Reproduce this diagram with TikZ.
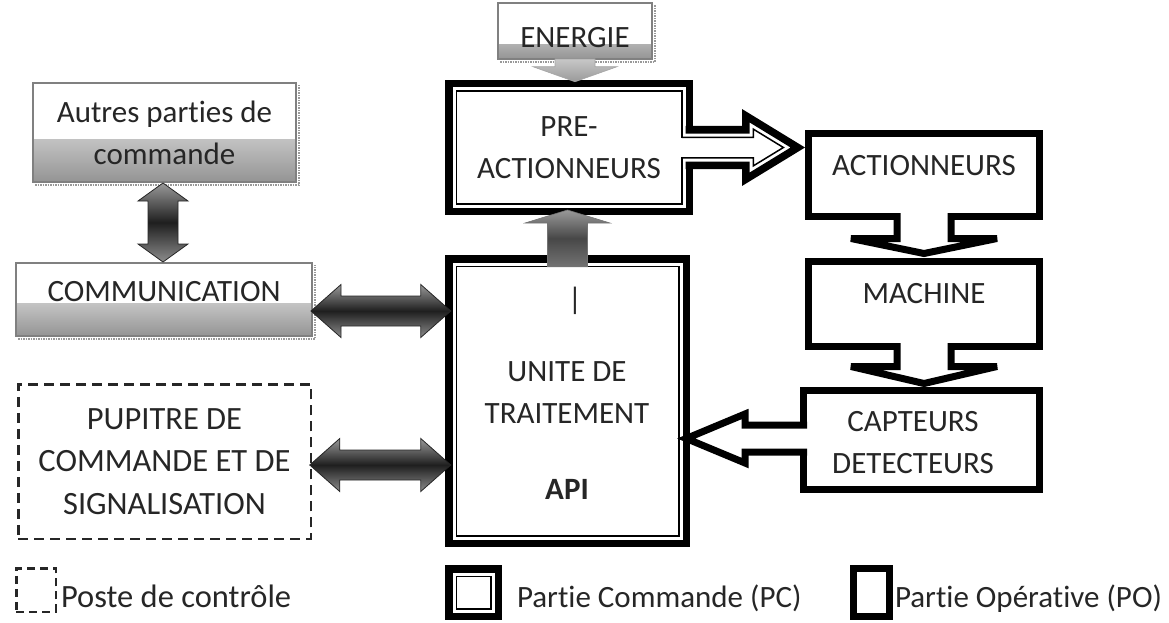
\documentclass[tikz,border=0pt]{standalone}
\usepackage{fontspec}
\setmainfont{Carlito}[Ligatures=NoCommon]
\usetikzlibrary{calc}
\begin{document}
\begin{tikzpicture}[x=1pt,y=-1pt,
 every node/.style={outer sep=0pt,inner sep=0pt,text=black!85,font=\fontsize{31pt}{42pt}\selectfont},
 bigtxt/.style={font=\fontsize{32.5pt}{42.5pt}\selectfont},
 gbox/.style={draw=black!50,line width=2.2pt,fill=white,path picture={\shade[top color=white,bottom color=black!42] ($(path picture bounding box.south west)!#1!(path picture bounding box.north west)$) rectangle (path picture bounding box.south east);}},
 shadowline/.style={draw=black!40,line width=1.5pt,dash pattern=on 1.5pt off 1pt},
 pcbox/.style={draw=black,line width=7.5pt,fill=white,path picture={\draw[line width=1.5pt] ([xshift=7.5pt,yshift=-7.5pt]path picture bounding box.north west) rectangle ([xshift=-7.5pt,yshift=7.5pt]path picture bounding box.south east);}},
 pobox/.style={draw=black,line width=7pt,fill=white},
 postebox/.style={draw=black!85,line width=2.5pt,dash pattern=on 10pt off 6pt},
 hollowarrow/.style={draw=black,line width=7pt,fill=white,line join=miter,miter limit=3},
 pcarrow/.style={draw=black,line width=7.5pt,fill=white,line join=miter,miter limit=3},
 thinline/.style={draw=black,line width=1.5pt,line join=miter,miter limit=3},
 darkarrow/.style={draw=black!85,line width=0.8pt,top color=black!40,bottom color=black!45,middle color=black!88},
 grayarrow/.style={draw=black!55,line width=0.6pt,top color=black!40,bottom color=black!55,middle color=black!72},
 lightarrow/.style={draw=black!35,line width=0.6pt,top color=black!22,bottom color=black!40},
]
\useasboundingbox (0,0) rectangle (1169,623);

% ---- left column (poste de controle / communication)
\node[gbox=0.43,minimum width=263pt,minimum height=99pt,align=center] (autres) at (164.5,132.5) {Autres parties de\\commande};
\node[gbox=0.45,minimum width=296pt,minimum height=73pt,label={[yshift=7.5pt]center:COMMUNICATION}] (comm) at (164,299.5) {};
\node[postebox,bigtxt,minimum width=292.5pt,minimum height=154.5pt,align=center] (pupitre) at (164.5,461.5) {PUPITRE DE\\COMMANDE ET DE\\SIGNALISATION};
\node[gbox=0.25,minimum width=154pt,minimum height=56pt,label={[yshift=-6.5pt]center:ENERGIE}] (energie) at (575,31) {};

\foreach \b in {autres,comm,energie}{
  \draw[shadowline] ([xshift=2pt,yshift=-2.8pt]\b.south west) -- ([xshift=2.8pt,yshift=-2.8pt]\b.south east) -- ([xshift=2.8pt,yshift=-2pt]\b.north east);
}

% ---- partie commande
\node[pcbox,minimum width=240.5pt,minimum height=127.5pt,align=center] (pre) at (569,147.5) {PRE-\\ACTIONNEURS};
\node[pcbox,minimum width=237.5pt,minimum height=284.5pt] (unite) at (567.5,401) {};
\node (bar) at (575,301) {|};
\node[align=center] (uniteT) at (567,392.5) {UNITE DE\\TRAITEMENT};
\node (api) at (567,489) {\textbf{API}};

% ---- partie operative
\node[pobox,minimum width=231pt,minimum height=83pt,label={[yshift=9pt]center:ACTIONNEURS}] (act) at (924,175) {};
\node[pobox,minimum width=231pt,minimum height=85pt,label={[yshift=10pt]center:MACHINE}] (mach) at (924,304) {};
\node[pobox,minimum width=236pt,minimum height=99pt,label={[align=center,xshift=-8.5pt,yshift=-2.5pt]center:{CAPTEURS\\DETECTEURS}}] (capt) at (921.5,440) {};

% ---- hollow block arrows of the operative part
\path[hollowarrow] let \p1=(act.south), \p2=(mach.north) in
  (\x1-27pt,\y1+3.5pt) -- (\x1-27pt,\y1-22pt) -- (\x1-73pt,\y1-22pt) -- (\x1,\y2+8pt)
  -- (\x1+73pt,\y1-22pt) -- (\x1+27pt,\y1-22pt) -- (\x1+27pt,\y1+3.5pt);
\path[hollowarrow] let \p1=(mach.south), \p2=(capt.north) in
  (\x1-27pt,\y1+3.5pt) -- (\x1-27pt,\y1-20pt) -- (\x1-73pt,\y1-20pt) -- (\x1,\y2+7pt)
  -- (\x1+73pt,\y1-20pt) -- (\x1+27pt,\y1-20pt) -- (\x1+27pt,\y1+3.5pt);
\path[hollowarrow] let \p1=(capt.west), \p2=(unite.east) in
  (\x1+3.5pt,\y1+15pt) -- (\x1-58.5pt,\y1+15pt) -- (\x1-58.5pt,\y1+26pt) -- (\x2,\y1+1.5pt)
  -- (\x1-58.5pt,\y1-23pt) -- (\x1-58.5pt,\y1-12pt) -- (\x1+3.5pt,\y1-12pt);

% ---- double-outlined arrow pre-actionneurs -> actionneurs
\path[pcarrow] let \p1=(pre.east), \p2=(act.west) in
  (\x1-3.75pt,\y1+17.75pt) -- (\x1+56.5pt,\y1+17.75pt) -- (\x1+56.5pt,\y1+31.8pt) -- (\x2-10.7pt,\y1)
  -- (\x1+56.5pt,\y1-31.8pt) -- (\x1+56.5pt,\y1-17.75pt) -- (\x1-3.75pt,\y1-17.75pt);
\fill[white] let \p1=(pre.east) in (\x1-9pt,\y1+9.5pt) rectangle (\x1-3pt,\y1-9.5pt);
\path[thinline] let \p1=(pre.east), \p2=(act.west) in
  (\x1-7.5pt,\y1+10.25pt) -- (\x1+64pt,\y1+10.25pt) -- (\x1+64pt,\y1+18.4pt) -- (\x2-25.1pt,\y1)
  -- (\x1+64pt,\y1-18.4pt) -- (\x1+64pt,\y1-10.25pt) -- (\x1-7.5pt,\y1-10.25pt);

% ---- grey arrows
\path[lightarrow] let \p1=(energie.south), \p2=([yshift=2pt]pre.north) in
  (\x1-20pt,\y1) -- (\x1-20pt,\y2+15pt) -- (\x1-42pt,\y2+15pt) -- (\x1,\y2)
  -- (\x1+42pt,\y2+15pt) -- (\x1+20pt,\y2+15pt) -- (\x1+20pt,\y1) -- cycle;
\path[grayarrow] let \p1=([yshift=-8pt]unite.north), \p2=([yshift=1.25pt]pre.south) in
  (\x1-20pt,\y1) -- (\x1-20pt,\y2-13pt) -- (\x1-42.5pt,\y2-13pt) -- (\x1,\y2)
  -- (\x1+42.5pt,\y2-13pt) -- (\x1+20pt,\y2-13pt) -- (\x1+20pt,\y1) -- cycle;

% ---- dark double arrows
\path[darkarrow] let \p1=([xshift=-1.5pt,yshift=-1pt]autres.south), \p2=([yshift=1pt]comm.north) in
  (\x1,\y1) -- (\x1+25pt,\y1-18pt) -- (\x1+15pt,\y1-18pt) -- (\x1+15pt,\y2+18pt) -- (\x1+25pt,\y2+18pt)
  -- (\x1,\y2) -- (\x1-25pt,\y2+18pt) -- (\x1-15pt,\y2+18pt) -- (\x1-15pt,\y1-18pt) -- (\x1-25pt,\y1-18pt) -- cycle;
\path[darkarrow] let \p1=([xshift=-1pt,yshift=-11.5pt]comm.east), \p2=([xshift=2pt]unite.west) in
  (\x1,\y1) -- (\x1+30pt,\y1+26.5pt) -- (\x1+30pt,\y1+15pt) -- (\x2-30pt,\y1+15pt) -- (\x2-30pt,\y1+26.5pt)
  -- (\x2,\y1) -- (\x2-30pt,\y1-26.5pt) -- (\x2-30pt,\y1-15pt) -- (\x1+30pt,\y1-15pt) -- (\x1+30pt,\y1-26.5pt) -- cycle;
\path[darkarrow] let \p1=([xshift=-1pt,yshift=-3.5pt]pupitre.east), \p2=([xshift=2pt]unite.west) in
  (\x1,\y1) -- (\x1+30pt,\y1+26.5pt) -- (\x1+30pt,\y1+15pt) -- (\x2-30pt,\y1+15pt) -- (\x2-30pt,\y1+26.5pt)
  -- (\x2,\y1) -- (\x2-30pt,\y1-26.5pt) -- (\x2-30pt,\y1-15pt) -- (\x1+30pt,\y1-15pt) -- (\x1+30pt,\y1-26.5pt) -- cycle;

% ---- legend
\node[postebox,dash pattern=on 8pt off 5pt,minimum width=39.5pt,minimum height=43.5pt] (lgposte) at (36,590) {};
\node[anchor=base west,bigtxt] (lgposteT) at (61,607) {Poste de contrôle};
\node[pcbox,minimum width=49.5pt,minimum height=47.5pt] (lgpc) at (473.5,592.5) {};
\node[anchor=base west] (lgpcT) at (517,607) {Partie Commande (PC)};
\node[pobox,minimum width=36pt,minimum height=48pt] (lgpo) at (871.5,592.5) {};
\node[anchor=base west] (lgpoT) at (895,607) {Partie Opérative (PO)};
\end{tikzpicture}
\end{document}
